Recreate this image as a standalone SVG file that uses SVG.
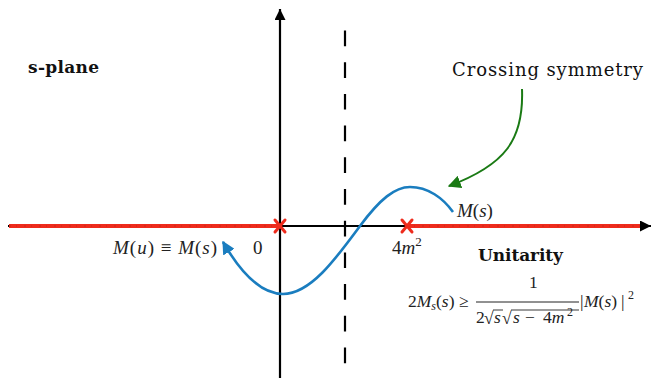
<svg xmlns="http://www.w3.org/2000/svg" width="651" height="378" viewBox="0 0 651 378">
<style>
.ax{stroke:#000;stroke-width:2.2;fill:none}
.red{stroke:#ee2b1c;stroke-width:4;fill:none}
.redt{stroke:#c8281a;stroke-width:1;fill:none;stroke-dasharray:2 5 1 7}
.xm{stroke:#ee2b1c;stroke-width:3;fill:none;stroke-linecap:round}
.blue{stroke:#1a7dbf;stroke-width:2.6;fill:none}
.grn{stroke:#1a7a14;stroke-width:2;fill:none}
.ttl{font-family:"DejaVu Serif",serif;fill:#111}
.m{font-family:"Liberation Serif",serif;font-size:19px;fill:#222}
.f{font-family:"Liberation Serif",serif;font-size:17.5px;fill:#222}
.s{font-family:"Liberation Serif",serif;font-size:12px;fill:#222}
.i{font-style:italic}
</style>
<defs>
<marker id="ak" viewBox="0 0 10 10" refX="10" refY="5" markerWidth="5" markerHeight="5" markerUnits="strokeWidth" orient="auto"><path d="M0,0 L10,5 L0,10 z" fill="#000"/></marker>
<marker id="ab" viewBox="0 0 10 10" refX="9" refY="5" markerWidth="5" markerHeight="5" markerUnits="strokeWidth" orient="auto-start-reverse"><path d="M0,0 L10,5 L0,10 z" fill="#1a7dbf"/></marker>
<marker id="ag" viewBox="0 0 10 10" refX="9" refY="5" markerWidth="6.5" markerHeight="6.5" markerUnits="strokeWidth" orient="auto"><path d="M0,0 L10,5 L0,10 z" fill="#1a7a14"/></marker>
</defs>
<g id="connectors">
<line class="ax" x1="8" y1="226" x2="651" y2="226" marker-end="url(#ak)"/>
<line class="ax" x1="280" y1="378" x2="280" y2="9" marker-end="url(#ak)"/>
<line class="ax" x1="345" y1="30.5" x2="345" y2="378" stroke-dasharray="15.7 16"/>
<line class="red" x1="9" y1="226" x2="280" y2="226"/>
<line class="red" x1="407" y1="226" x2="640" y2="226"/>
<line class="redt" x1="9" y1="226" x2="280" y2="226"/>
<line class="redt" x1="407" y1="226" x2="640" y2="226"/>
<path class="xm" d="M275,220 L285,232 M285,220 L275,232"/>
<path class="xm" d="M402,220 L412,232 M412,220 L402,232"/>
<path class="blue" d="M223,242 C245,280 265,294 283,294 C310,294 335,260 360,226 C380,199 395,187 410,187 C428,187 443,198 453,212" marker-start="url(#ab)"/>
<path class="grn" d="M522,89 C524,140 505,165 449,186" marker-end="url(#ag)"/>
</g>
<g id="splane"><text class="ttl" x="28" y="73" font-size="17" font-weight="bold" textLength="71">s-plane</text></g>
<g id="crossing"><text class="ttl" x="452" y="76" font-size="18" textLength="191">Crossing symmetry</text></g>
<g id="unitarity"><text class="ttl" x="478" y="261" font-size="17" font-weight="bold" textLength="85">Unitarity</text></g>
<g id="label-Ms"><text class="m" x="457" y="217"><tspan class="i">M</tspan>(<tspan class="i">s</tspan>)</text></g>
<g id="label-4m2"><text class="m" x="392" y="254">4<tspan class="i">m</tspan><tspan font-size="13" dy="-8">2</tspan></text></g>
<g id="label-zero"><text class="m" x="253" y="254">0</text></g>
<g id="label-Mu"><text class="m" x="113" y="254" textLength="104"><tspan class="i">M</tspan>(<tspan class="i">u</tspan>) ≡ <tspan class="i">M</tspan>(<tspan class="i">s</tspan>)</text></g>
<g id="formula">
<text class="f" x="408" y="307">2<tspan class="i">M</tspan><tspan class="i" font-size="12" dy="3">s</tspan><tspan dy="-3">(</tspan><tspan class="i">s</tspan>)</text>
<text class="f" x="459" y="307">≥</text>
<text class="f" x="529" y="288">1</text>
<line x1="476" y1="302" x2="579" y2="302" stroke="#222" stroke-width="1"/>
<text class="f" x="476" y="323">2</text>
<text class="f" x="484" y="324">√</text>
<line x1="493" y1="310" x2="503" y2="310" stroke="#222" stroke-width="0.9"/>
<text class="f i" x="494" y="323">s</text>
<text class="f" x="502" y="324">√</text>
<line x1="511" y1="310" x2="579" y2="310" stroke="#222" stroke-width="0.9"/>
<text class="f i" x="513" y="323">s</text>
<text class="f" x="525" y="323">−</text>
<text class="f" x="543" y="323">4<tspan class="i">m</tspan></text>
<text class="s" x="567" y="316">2</text>
<text class="f" x="580" y="307">|</text>
<text class="f" x="584" y="307"><tspan class="i">M</tspan>(<tspan class="i">s</tspan>)</text>
<text class="f" x="621" y="307">|</text>
<text class="s" x="628" y="299">2</text>
</g>
</svg>
